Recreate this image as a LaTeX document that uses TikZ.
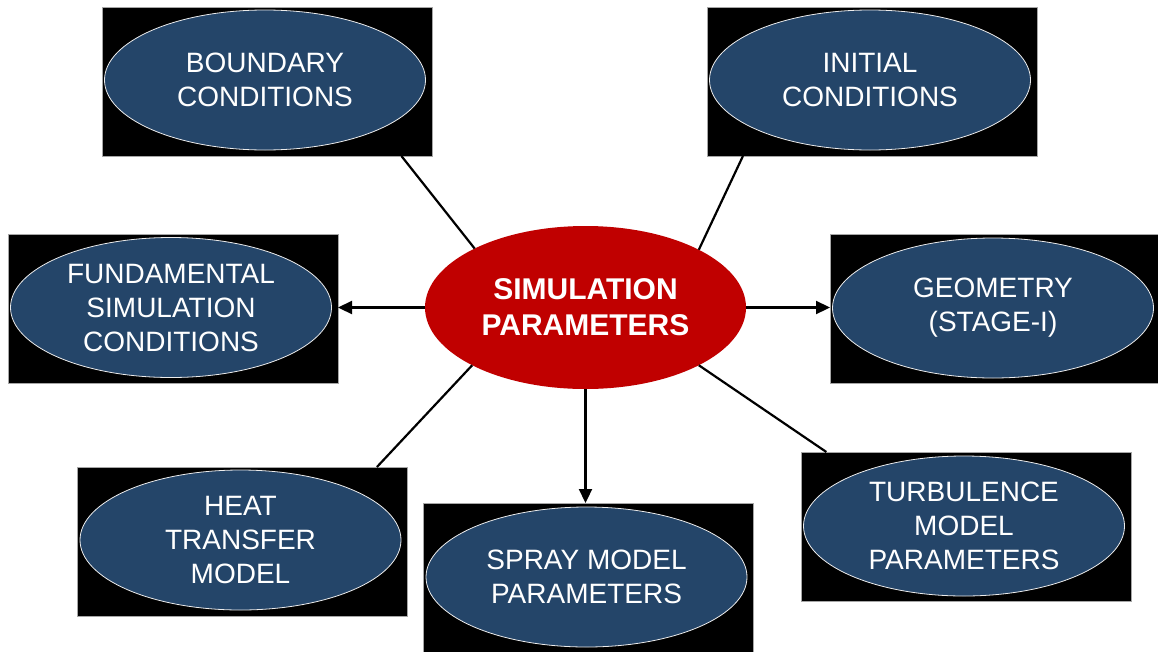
\documentclass[tikz,border=0pt]{standalone}
\usepackage{fontspec}
\setmainfont{Liberation Sans}
\usetikzlibrary{arrows.meta,shapes.geometric}
\definecolor{nodeblue}{RGB}{36,69,105}
\definecolor{centrered}{RGB}{192,0,0}
\begin{document}
\begin{tikzpicture}[x=1pt,y=-1pt,
  boxbg/.style={rectangle, fill=black, draw=gray!70, line width=0.8pt,
    minimum width=330pt, minimum height=149pt, outer sep=0pt, inner sep=0pt},
  blueell/.style={ellipse, fill=nodeblue, draw=white!85!gray, line width=0.8pt,
    minimum width=321pt, minimum height=140pt, inner sep=0pt, text=white,
    align=center, font=\fontsize{28}{34}\selectfont},
  hub/.style={ellipse, fill=centrered, minimum width=321pt, minimum height=163pt,
    outer sep=0pt, inner sep=0pt, text=white, align=center,
    font=\fontsize{30}{36}\selectfont\bfseries},
  link/.style={line width=2.2pt},
  arrowlink/.style={line width=2.2pt, -{Triangle[length=14pt,width=13pt]}}]
\clip (0,0) rectangle (1158,651);
\fill[white] (0,0) rectangle (1158,651);

% boxes
\node[boxbg] (bcbox) at (267,81.5) {};
\node[blueell] (bc) at (265,80) {BOUNDARY\\CONDITIONS};

\node[boxbg] (icbox) at (872,81.5) {};
\node[blueell] (ic) at (870,80) {INITIAL\\CONDITIONS};

\node[boxbg] (fscbox) at (173,308.5) {};
\node[blueell] (fsc) at (171,307.5) {FUNDAMENTAL\\SIMULATION\\CONDITIONS};

\node[boxbg] (geobox) at (995,308.5) {};
\node[blueell] (geo) at (993,308) {GEOMETRY\\(STAGE-I)};

\node[boxbg] (heatbox) at (242.5,541.5) {};
\node[blueell] (heat) at (240.5,540) {HEAT\\TRANSFER\\MODEL};

\node[boxbg] (spraybox) at (588,577.5) {};
\node[blueell] (spray) at (586.5,577) {SPRAY MODEL\\PARAMETERS};

\node[boxbg] (turbbox) at (966.5,526.5) {};
\node[blueell] (turb) at (964,526) {TURBULENCE\\MODEL\\PARAMETERS};

% hub
\node[hub] (hubn) at (585.5,307.5) {SIMULATION\\PARAMETERS};

% connectors
\draw[link] (hubn.152.3) -- (bcbox.-29);
\draw[link] (hubn.27.5) -- (icbox.210);
\draw[link] (hubn.207.3) -- (heatbox.29.3);
\draw[link] (hubn.-27.3) -- (turbbox.152.9);
\draw[arrowlink] (hubn.west) -- (hubn.west -| fscbox.east);
\draw[arrowlink] (hubn.east) -- (hubn.east -| geobox.west);
\draw[arrowlink] (hubn.south) -- (hubn.south |- spraybox.north);
\end{tikzpicture}
\end{document}
